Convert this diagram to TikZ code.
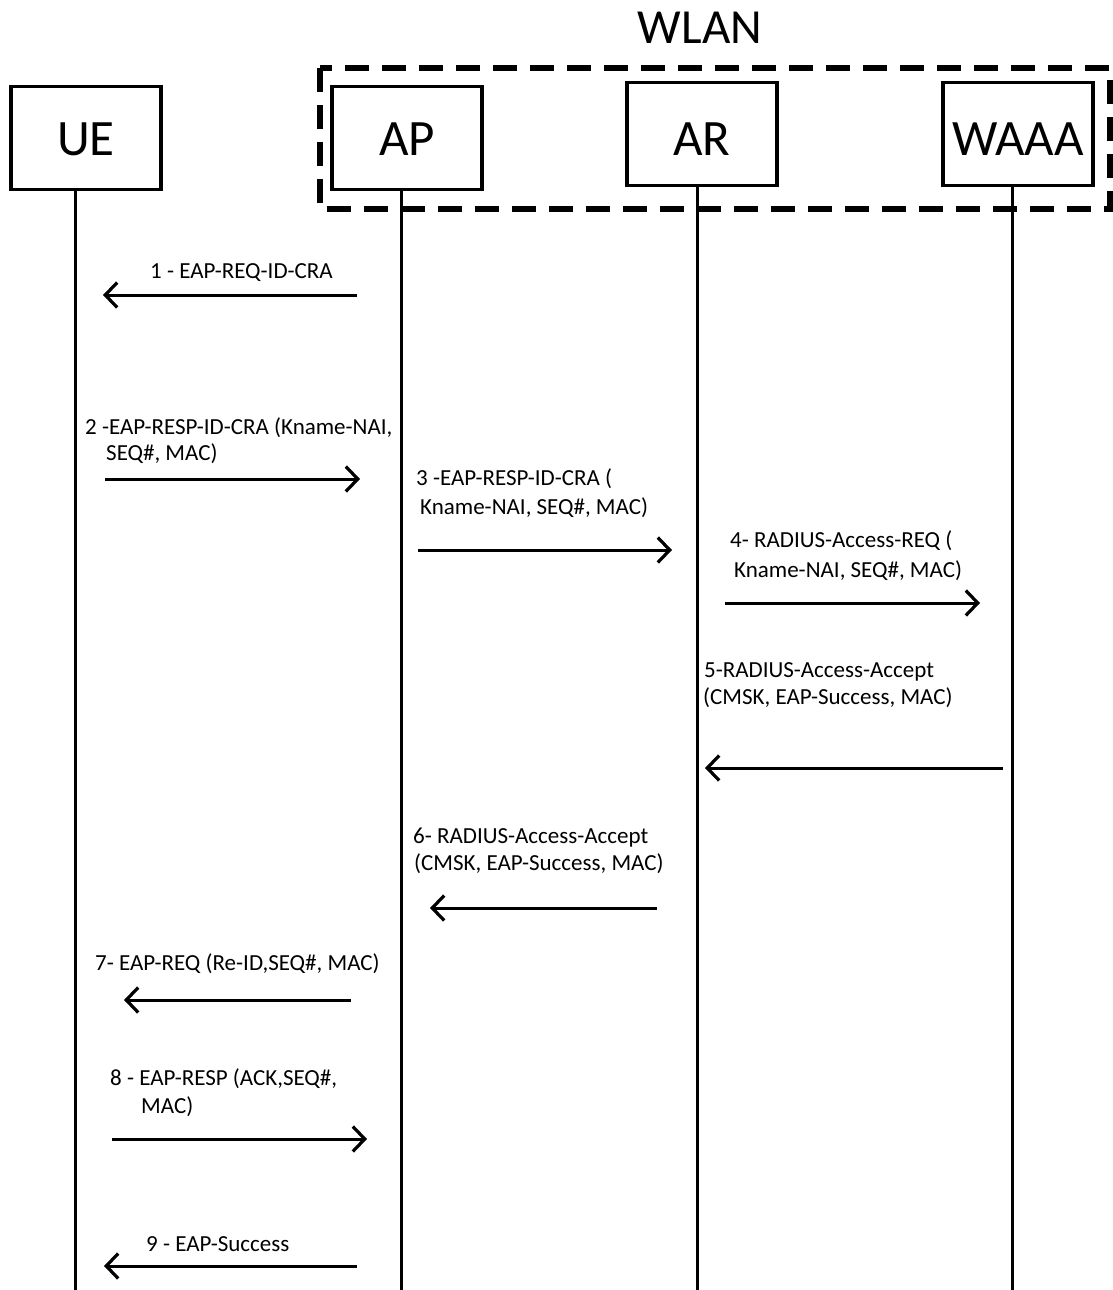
\documentclass[tikz,border=0pt]{standalone}
\usepackage{fontspec}
\setmainfont{Carlito}
\usetikzlibrary{arrows.meta}
\begin{document}
\begin{tikzpicture}[x=1pt,y=-1pt,
  ent/.style={draw,line width=3.5pt,minimum width=150pt,minimum height=103pt,inner sep=0pt,text height=35pt,text depth=0pt,font=\fontsize{51}{55}\selectfont},
  entlow/.style={ent,text height=43pt},
  life/.style={line width=3pt},
  msg/.style={line width=3pt,-{Straight Barb[length=12pt,width=25pt,line width=3.2pt]}},
  lbl/.style={anchor=base west,inner sep=0pt,font=\fontsize{23}{26}\selectfont}]
\useasboundingbox (0,0) rectangle (1113,1290);
% WLAN group
\draw[line width=6pt,dash pattern=on 24pt off 13pt] (320,68) rectangle (1110,209);
\node[font=\fontsize{49}{53}\selectfont] (wlan) at (700,28) {WLAN};
% entities
\node[ent] (ue) at (86,138) {UE};
\node[ent] (ap) at (407,138) {AP};
\node[entlow] (ar) at (702,134) {AR};
\node[entlow] (waaa) at (1018,134) {WAAA};
% lifelines
\coordinate (ueb) at (75,1290);
\coordinate (apb) at (401,1290);
\coordinate (arb) at (697,1290);
\coordinate (waaab) at (1012,1290);
\draw[life] (ue.south -| ueb) -- (ueb);
\draw[life] (ap.south -| apb) -- (apb);
\draw[life] (ar.south -| arb) -- (arb);
\draw[life] (waaa.south -| waaab) -- (waaab);
% message endpoints
\coordinate (m1s) at (357,295);  \coordinate (m1e) at (103,295);
\coordinate (m2s) at (105,479);  \coordinate (m2e) at (360,479);
\coordinate (m3s) at (418,550);  \coordinate (m3e) at (672,550);
\coordinate (m4s) at (725,603);  \coordinate (m4e) at (980,603);
\coordinate (m5s) at (1003,768); \coordinate (m5e) at (705,768);
\coordinate (m6s) at (657,908);  \coordinate (m6e) at (430,908);
\coordinate (m7s) at (351,1000); \coordinate (m7e) at (124,1000);
\coordinate (m8s) at (112,1139); \coordinate (m8e) at (367,1139);
\coordinate (m9s) at (357,1266); \coordinate (m9e) at (104,1266);
\foreach \i in {1,...,9} {\draw[msg] (m\i s) -- (m\i e);}
% labels
\node[lbl] (l1) at (150,278) {1 - EAP-REQ-ID-CRA};
\node[lbl] (l2a) at (85,434) {2 -EAP-RESP-ID-CRA (Kname-NAI,};
\node[lbl] (l2b) at (106,460) {SEQ\#, MAC)};
\node[lbl] (l3a) at (416,485) {3 -EAP-RESP-ID-CRA (};
\node[lbl] (l3b) at (420,514) {Kname-NAI, SEQ\#, MAC)};
\node[lbl] (l4a) at (730,547) {4- RADIUS-Access-REQ (};
\node[lbl] (l4b) at (734,577) {Kname-NAI, SEQ\#, MAC)};
\node[lbl] (l5a) at (704,677) {5-RADIUS-Access-Accept};
\node[lbl] (l5b) at (703,704) {(CMSK, EAP-Success, MAC)};
\node[lbl] (l6a) at (413,843) {6- RADIUS-Access-Accept};
\node[lbl] (l6b) at (414,870) {(CMSK, EAP-Success, MAC)};
\node[lbl] (l7) at (95,970) {7- EAP-REQ (Re-ID,SEQ\#, MAC)};
\node[lbl] (l8a) at (110,1085) {8 - EAP-RESP (ACK,SEQ\#,};
\node[lbl] (l8b) at (141,1113) {MAC)};
\node[lbl] (l9) at (146,1251) {9 - EAP-Success};
\end{tikzpicture}
\end{document}
